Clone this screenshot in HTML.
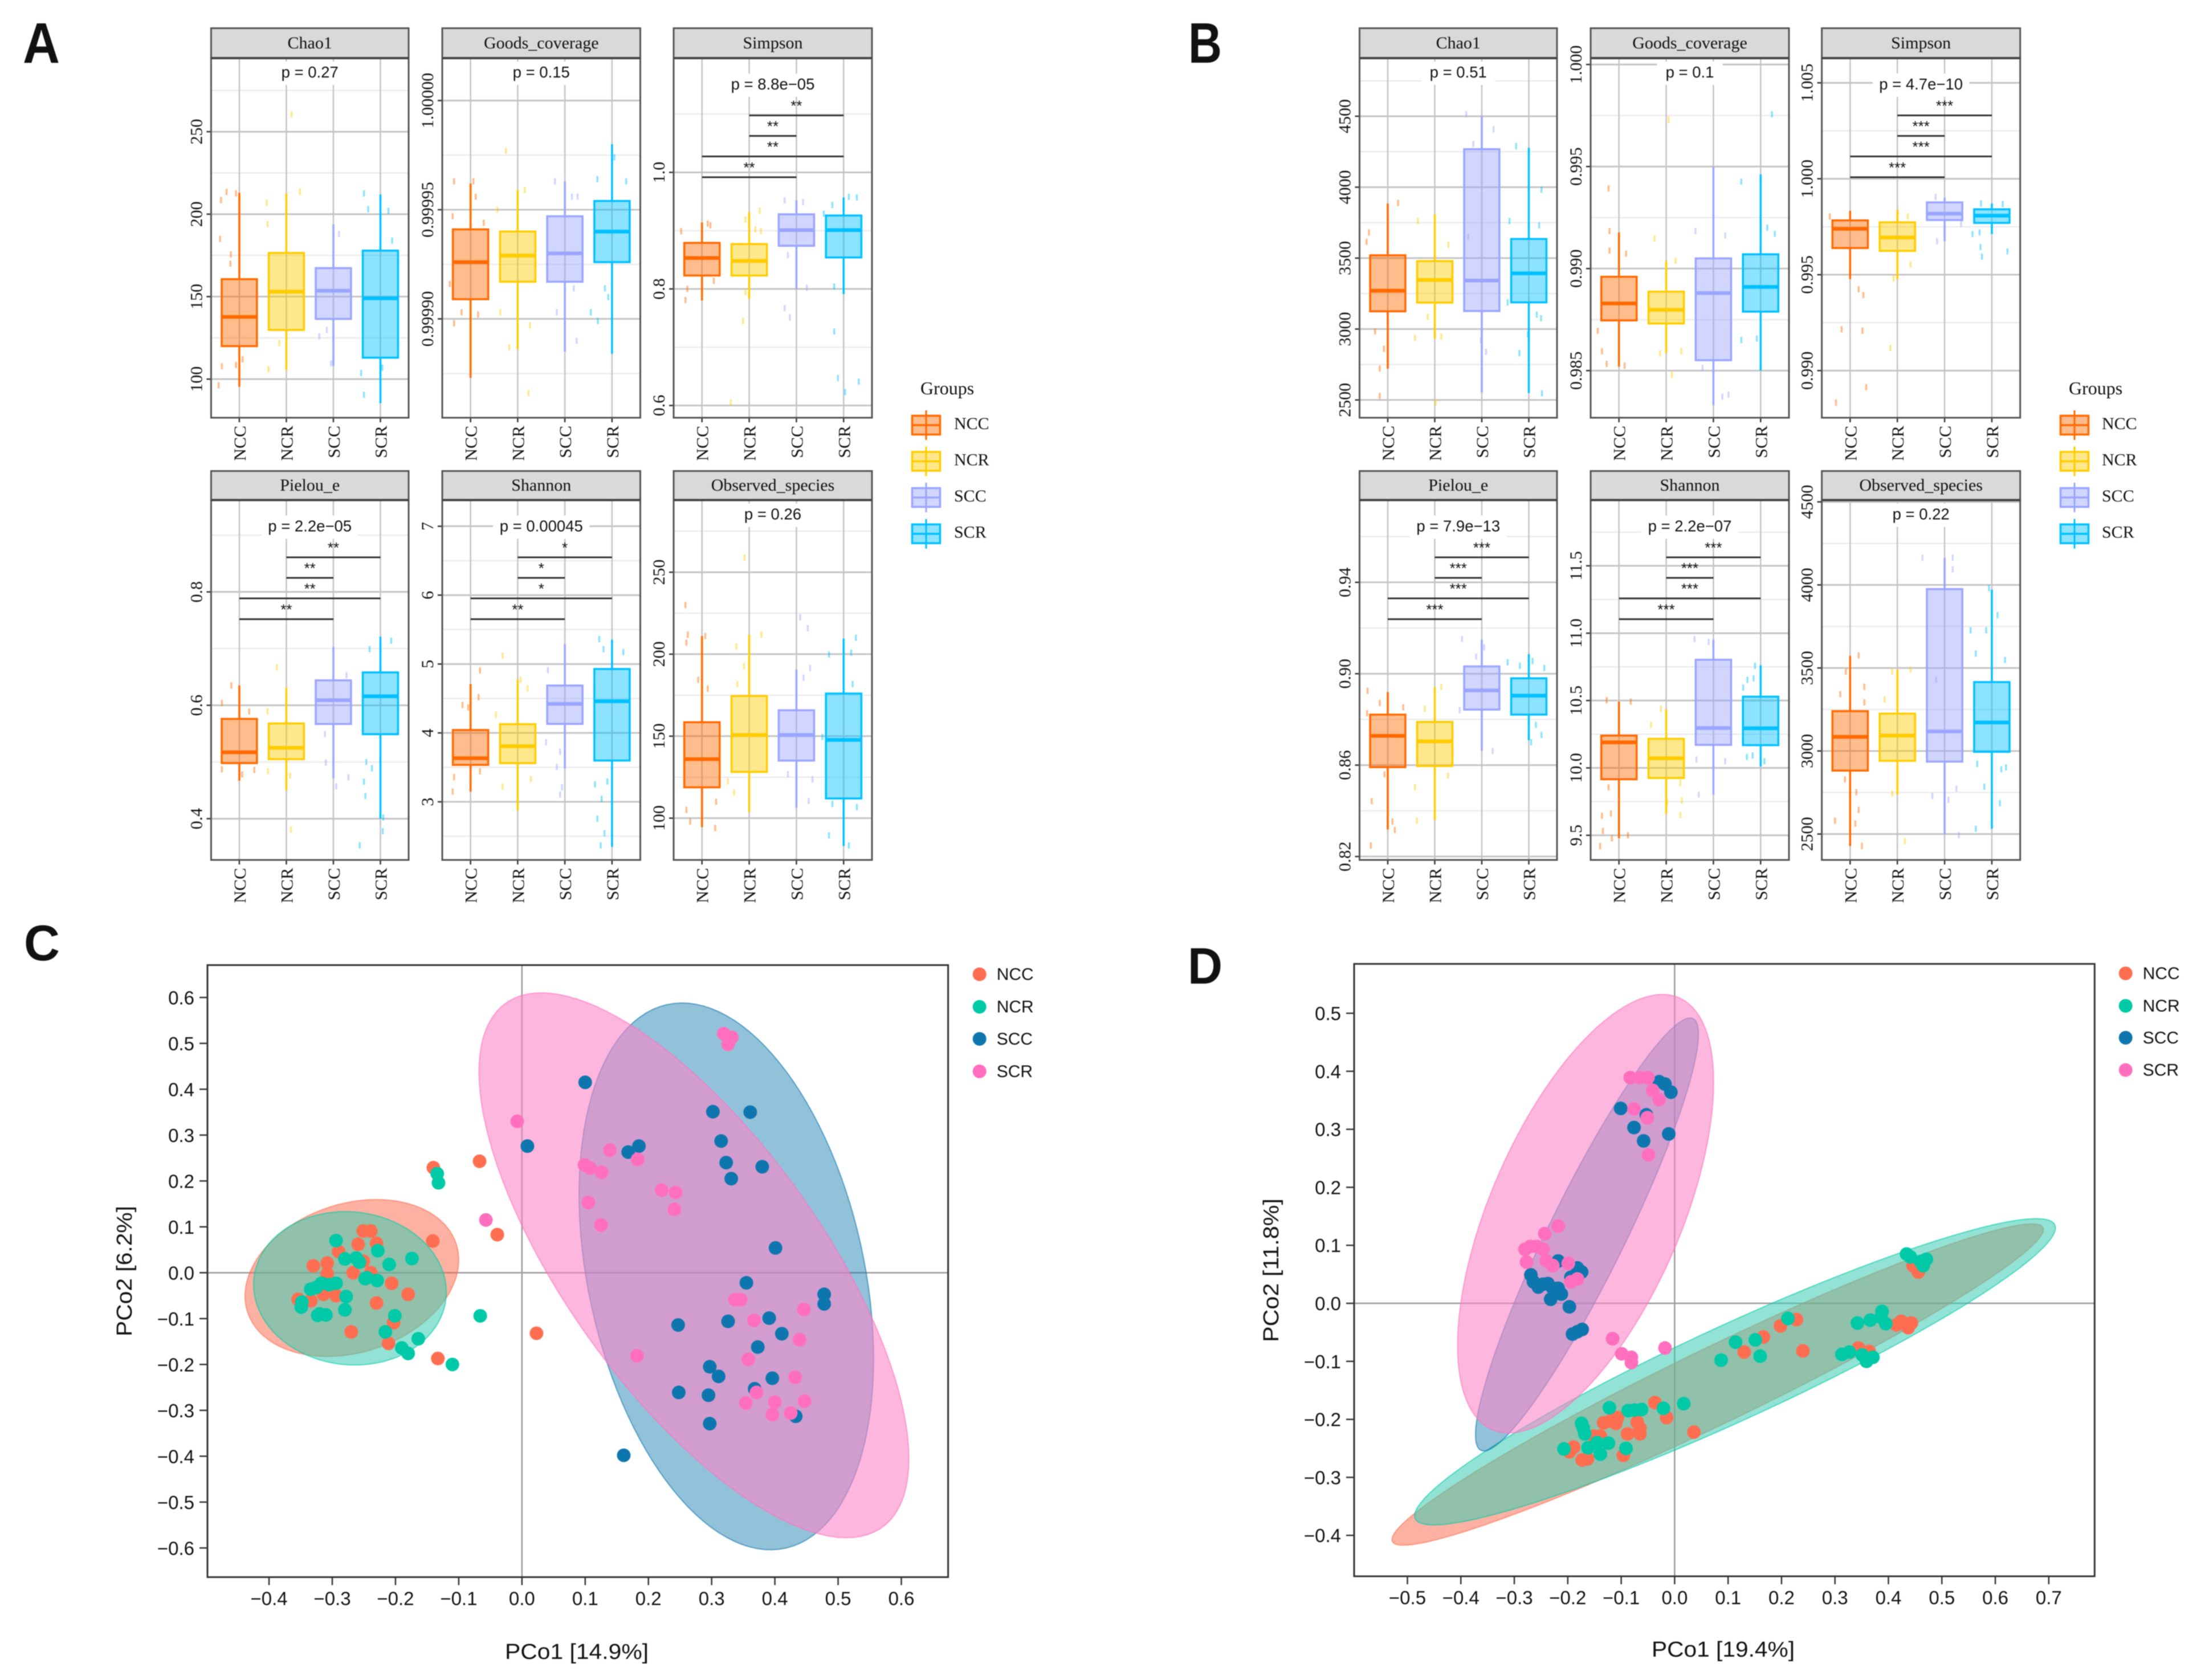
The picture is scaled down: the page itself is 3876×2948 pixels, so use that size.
<!DOCTYPE html>
<html lang="en">
<head>
<meta charset="utf-8">
<title>Alpha diversity boxplots and PCoA plots</title>
<style>
html,body{margin:0;padding:0;background:#fff;}
svg{display:block;filter:blur(0.8px);}
text{fill:#111;}
.serif{font-family:"Liberation Serif",serif;}
.sans{font-family:"Liberation Sans",sans-serif;}
</style>
</head>
<body>
<svg id="fig" xmlns="http://www.w3.org/2000/svg" width="3876" height="2948" viewBox="0 0 3876 2948">
<rect x="0" y="0" width="3876" height="2948" fill="#fff"/>
<g id="layer"></g>
<text class="sans" x="40" y="110" font-size="100" font-weight="bold" textLength="65" lengthAdjust="spacingAndGlyphs" fill="#000">A</text>
<text class="sans" x="2085" y="110" font-size="100" font-weight="bold" textLength="59" lengthAdjust="spacingAndGlyphs" fill="#000">B</text>
<text class="sans" x="42" y="1685" font-size="88" font-weight="bold" textLength="63" lengthAdjust="spacingAndGlyphs" fill="#000">C</text>
<text class="sans" x="2084" y="1726" font-size="90" font-weight="bold" textLength="61" lengthAdjust="spacingAndGlyphs" fill="#000">D</text>
<text class="serif" x="1615" y="692" font-size="32">Groups</text>
<text class="serif" x="3630" y="692" font-size="32">Groups</text>
<text class="sans" x="886" y="2911" font-size="38" textLength="252" lengthAdjust="spacingAndGlyphs" fill="#222">PCo1 [14.9%]</text>
<text class="sans" transform="translate(231,2345) rotate(-90)" font-size="38" textLength="229" lengthAdjust="spacingAndGlyphs" fill="#222">PCo2 [6.2%]</text>
<text class="sans" x="2898" y="2907" font-size="38" textLength="251" lengthAdjust="spacingAndGlyphs" fill="#222">PCo1 [19.4%]</text>
<text class="sans" transform="translate(2243,2355) rotate(-90)" font-size="38" textLength="252" lengthAdjust="spacingAndGlyphs" fill="#222">PCo2 [11.8%]</text>
</svg>
<script>
// ---------- Boxplot data: each stats row is [whisker low, q1, median, q3, whisker high] ----------
const groupNames = ['NCC', 'NCR', 'SCC', 'SCR'];

const aChao1Stats = [[95.4,120,137.7,160.6,213],[105.5,129.8,153,176.5,212.6],[108,136.5,153.6,167.3,193.8],[85.4,113,149,177.9,212]];
const aGoodsStats = [[0.999873,0.999909,0.999926,0.999941,0.999962],[0.999886,0.999917,0.999929,0.99994,0.999959],[0.999885,0.999917,0.99993,0.999947,0.999963],[0.999884,0.999926,0.99994,0.999954,0.99998]];
const aSimpsonStats = [[0.78,0.823,0.853,0.879,0.914],[0.783,0.823,0.848,0.877,0.932],[0.8,0.874,0.901,0.928,0.952],[0.791,0.854,0.901,0.926,0.957]];
const aPielouStats = [[0.467,0.498,0.517,0.576,0.635],[0.45,0.505,0.525,0.568,0.631],[0.471,0.567,0.609,0.644,0.703],[0.4,0.549,0.616,0.658,0.721]];
const aShannonStats = [[3.148,3.536,3.633,4.042,4.709],[2.873,3.561,3.806,4.127,4.772],[3.485,4.131,4.422,4.688,5.287],[2.346,3.599,4.46,4.928,5.354]];
const aObservedStats = [[94.5,118.8,136,158.5,211],[103.7,128.2,150.7,174.5,211.9],[106.4,135.1,150.7,165.8,190.6],[83,112,147.7,176,209.6]];
const bChao1Stats = [[2721,3125,3270,3520,3885],[2932,3186,3346,3479,3807],[2553,3127,3342,4268,4500],[2549,3188,3393,3635,4278]];
const bGoodsStats = [[0.98519,0.98746,0.98829,0.9896,0.99177],[0.98585,0.98731,0.98798,0.98887,0.99037],[0.98333,0.98551,0.9888,0.9905,0.995],[0.985,0.98789,0.9891,0.9907,0.99462]];
const bSimpsonStats = [[0.99477,0.99639,0.99739,0.99783,0.99833],[0.99477,0.99624,0.99694,0.99773,0.99833],[0.99674,0.99785,0.99818,0.99877,0.99901],[0.99712,0.9977,0.99808,0.99841,0.99871]];
const bPielouStats = [[0.8318,0.8591,0.8728,0.8821,0.892],[0.836,0.8596,0.8704,0.8789,0.8942],[0.8662,0.8843,0.8927,0.9032,0.9149],[0.8709,0.8821,0.8904,0.898,0.9086]];
const bShannonStats = [[9.478,9.916,10.19,10.24,10.492],[9.657,9.925,10.072,10.216,10.434],[9.802,10.171,10.296,10.803,10.952],[10.011,10.169,10.294,10.529,10.762]];
const bObservedStats = [[2427,2882,3085,3240,3573],[2738,2941,3093,3225,3491],[2497,2936,3118,3975,4164],[2532,2995,3172,3415,3972]];

// Jittered samples per group: [category offset, value]
const aChao1Jitter = [[[-.27,213.5],[-.39,208.6],[-.07,212.6],[-.41,185],[-.18,175.6],[-.19,170],[-.37,107.8],[-.07,108.6],[.07,112],[-.44,96.3]],[[-.42,207],[-.4,194],[.11,260.5],[.29,213.5],[-.15,121.8],[-.38,106]],[[.12,188],[-.3,126],[-.05,109.5],[-.14,129.8]],[[-.35,212.6],[.17,202],[-.26,203],[.25,184],[-.41,103.7],[.04,107],[-.35,90.5]]];
const aGoodsJitter = [[[-.35,.999963],[.06,.999963],[.11,.999956],[-.38,.999947],[.28,.999944],[-.44,.999916],[-.19,.999903],[.16,.999902],[-.35,.999898]],[[-.25,.999977],[.15,.999959],[-.43,.99995],[-.37,.999903],[.26,.999897],[-.18,.999887],[.23,.999866]],[[-.21,.999963],[.15,.999956],[.27,.999956],[-.17,.999903],[.19,.999914],[.25,.99989]],[[-.31,.999964],[.3,.999963],[.05,.999974],[-.45,.999903],[-.3,.999899],[-.08,.99991],[-.15,.999914]]];
const aSimpsonJitter = [[[-.44,.899],[.12,.912],[.18,.909],[-.31,.8],[-.35,.781],[.25,.814]],[[.22,.934],[-.08,.919],[.13,.902],[.25,.899],[-.08,.795],[-.13,.745],[-.39,.605]],[[-.25,.952],[.14,.949],[-.25,.767],[-.14,.751],[.22,.802],[-.18,.858]],[[-.24,.944],[.11,.958],[.28,.957],[-.42,.929],[-.2,.727],[-.12,.647],[.32,.641],[.03,.623],[-.2,.804]]];
const aPielouJitter = [[[-.37,.604],[-.17,.635],[.21,.589],[-.37,.487],[.06,.478],[.32,.486]],[[-.2,.667],[-.4,.589],[-.39,.484],[.1,.381],[.08,.476]],[[-.16,.499],[.06,.457],[.32,.473],[.28,.653],[-.18,.549]],[[.23,.714],[-.23,.699],[-.3,.5],[-.18,.489],[-.35,.465],[-.32,.44],[.06,.402],[.05,.378],[-.44,.353]]];
const aShannonJitter = [[[-.17,4.405],[-.05,4.371],[.2,4.907],[.17,4.519],[-.38,3.148],[-.35,3.359],[.2,3.443]],[[-.32,5.122],[.21,4.646],[.06,4.772],[-.32,3.219],[.28,3.329],[-.46,4.266]],[[-.36,4.911],[-.4,3.865],[-.1,3.726],[-.17,3.506],[-.06,3.211],[-.1,3.105]],[[-.27,5.363],[-.18,5.215],[.24,5.173],[-.36,3.253],[-.1,3.295],[-.22,3.042],[-.31,2.755],[-.16,2.544],[-.24,2.367]]];
const aObservedJitter = [[[-.35,230],[-.3,211.9],[-.33,207],[.07,211],[-.08,184.4],[.12,179],[-.33,105],[.3,110],[.28,94],[-.25,97.9]],[[-.1,258.9],[.26,211.9],[-.27,204.8],[-.11,192.7],[-.25,181.7],[-.45,122.3],[-.32,115.6]],[[.08,222.5],[.24,215.8],[.29,191.5],[.15,185.6],[-.18,126.8],[.34,123.6],[.26,110.5]],[[.26,210],[.16,200.9],[-.31,199.8],[.19,181.7],[-.24,108.7],[.28,106.7],[-.31,89.5],[.11,83.3],[-.45,149.5]]];
const bChao1Jitter = [[[.22,3889],[-.4,3680],[-.45,3615],[-.27,2984],[-.08,2861],[-.17,2721],[-.17,2529]],[[.29,3594],[-.36,3762],[-.15,3086],[-.42,2938],[.14,2947],[.02,2482]],[[-.33,4514],[.25,4408],[-.29,3650],[.09,2840],[-.02,2922],[-.18,4305]],[[-.27,4289],[.27,3983],[-.41,3762],[.22,3731],[.17,3102],[.26,3076],[-.02,2963],[-.2,2830],[.28,2547],[-.45,3188]]];
const bGoodsJitter = [[[-.22,.99393],[-.2,.99184],[-.2,.99088],[.15,.99073],[-.45,.98695],[-.36,.98595],[-.26,.98533],[.12,.98524]],[[-.25,.99148],[.2,.99038],[.05,.9973],[-.13,.98585],[.32,.98595],[.12,.98479]],[[-.38,.99184],[.25,.99162],[-.23,.98514],[.19,.98372],[.32,.98383],[0,.98343]],[[-.41,.99426],[.24,.99756],[.14,.9920],[.3,.9917],[-.41,.9865],[-.08,.98657]]];
const bSimpsonJitter = [[[-.43,.99803],[.18,.99424],[.28,.99394],[-.18,.99215],[.26,.99208],[.34,.98914],[-.3,.98833]],[[.22,.99803],[.01,.99826],[.28,.99553],[-.08,.9948],[-.15,.99118]],[[-.19,.99905],[-.16,.99674],[.35,.99765]],[[-.23,.99871],[.23,.99868],[-.41,.99712],[-.26,.9972],[-.24,.99644],[-.21,.99594],[.33,.99621]]];
const bPielouJitter = [[[-.43,.8925],[-.17,.8872],[.33,.8853],[-.44,.8827],[-.07,.856],[-.34,.8442],[.1,.8353],[.15,.8316],[-.36,.8248]],[[-.21,.8846],[.14,.8942],[.28,.8554],[-.42,.8503],[-.38,.8356]],[[-.42,.9152],[.05,.9116],[-.12,.9075],[-.47,.884],[.23,.8662]],[[-.45,.905],[-.19,.9035],[.08,.9056],[.33,.9025],[.15,.8776],[.27,.8732],[.05,.87]]];
const bShannonJitter = [[[-.26,10.503],[.25,10.492],[-.22,9.856],[-.17,9.662],[-.36,9.645],[-.34,9.532],[-.15,9.478],[.19,9.5],[-.4,9.42]],[[-.32,10.32],[-.11,10.439],[.3,9.888],[.33,9.759],[.02,9.748],[.3,9.651]],[[-.4,10.956],[-.1,10.935],[-.36,10.061],[-.31,9.802],[.25,10.05]],[[-.12,10.758],[-.15,10.665],[-.28,10.654],[-.37,10.596],[-.17,10.093],[-.29,10.082],[.08,10.05]]];
const bObservedJitter = [[[.18,3576],[-.09,3478],[.3,3386],[-.21,3342],[.3,3293],[-.11,2829],[.13,2752],[.18,2645],[.11,2563],[-.32,2580],[.25,2428]],[[.28,3490],[-.11,3478],[-.27,3310],[-.11,2743],[.16,2458]],[[.17,4164],[.17,4094],[-.47,4164],[-.18,3429],[.08,2706],[.25,2773],[-.26,2729],[.3,2493]],[[-.45,3727],[-.12,3727],[-.06,3981],[.12,3818],[-.34,3587],[.28,3548],[-.31,2922],[.2,2890],[.3,2901],[.17,2686],[-.16,2785],[-.34,2532]]];

// Axis domains [bottom, top], tick labels and minor gridline values
const aChao1Domain = [76.6, 294.6];
const aChao1Ticks = ['100','150','200','250'];
const aChao1Minor = [125,175,225,275];
const aGoodsDomain = [0.99985472, 1.00001944];
const aGoodsTicks = ['0.99990','0.99995','1.00000'];
const aGoodsMinor = [0.999875,0.999925,0.999975];
const aSimpsonDomain = [0.579, 1.196];
const aSimpsonTicks = ['0.6','0.8','1.0'];
const aSimpsonMinor = [0.7,0.9,1.1];
const aPielouDomain = [0.3272, 0.962];
const aPielouTicks = ['0.4','0.6','0.8'];
const aPielouMinor = [0.5,0.7,0.9];
const aShannonDomain = [2.156, 7.38];
const aShannonTicks = ['3','4','5','6','7'];
const aShannonMinor = [2.5,3.5,4.5,5.5,6.5];
const aObservedDomain = [74.5, 294];
const aObservedTicks = ['100','150','200','250'];
const aObservedMinor = [125,175,225,275];
const bChao1Domain = [2375, 4909.6];
const bChao1Ticks = ['2500','3000','3500','4000','4500'];
const bChao1Minor = [2750,3250,3750,4250,4750];
const bGoodsDomain = [0.982692, 1.000313];
const bGoodsTicks = ['0.985','0.990','0.995','1.000'];
const bGoodsMinor = [0.9875,0.9925,0.9975];
const bSimpsonDomain = [0.987545, 1.006288];
const bSimpsonTicks = ['0.990','0.995','1.000','1.005'];
const bSimpsonMinor = [0.9925,0.9975,1.0025];
const bPielouDomain = [0.8185, 0.976];
const bPielouTicks = ['0.82','0.86','0.90','0.94'];
const bPielouMinor = [0.84,0.88,0.92,0.96];
const bShannonDomain = [9.317, 11.988];
const bShannonTicks = ['9.5','10.0','10.5','11.0','11.5'];
const bShannonMinor = [9.75,10.25,10.75,11.25,11.75];
const bObservedDomain = [2344, 4511];
const bObservedTicks = ['2500','3000','3500','4000','4500'];
const bObservedMinor = [2750,3250,3750,4250];

const comparisonPairs = [[1,3],[1,2],[0,3],[0,2]];
const starsTwo = ['**','**','**','**'];
const starsShannonA = ['*','*','*','**'];
const starsThree = ['***','***','***','***'];

// ---------- PCoA data: [PCo1, PCo2] ----------
const cNCC = [[-.14,.229],[-.067,.243],[-.141,.069],[-.039,.083],[.023,-.132],[-.133,-.187],[-.251,.091],[-.239,.091],[-.259,.062],[-.23,.064],[-.29,.046],[-.33,.015],[-.308,.021],[-.308,-.002],[-.251,.025],[-.267,0],[-.239,0],[-.206,-.023],[-.18,-.047],[-.354,-.058],[-.334,-.061],[-.314,-.047],[-.294,-.05],[-.23,-.066],[-.27,-.129],[-.203,-.109],[-.211,-.154]];
const cNCR = [[-.134,.216],[-.132,.196],[-.294,.07],[-.228,.048],[-.174,.031],[-.28,.03],[-.262,.032],[-.257,.023],[-.21,.018],[-.245,-.011],[-.229,-.017],[-.248,-.013],[-.334,-.036],[-.325,-.032],[-.317,-.023],[-.305,-.026],[-.294,-.023],[-.278,-.052],[-.348,-.064],[-.349,-.075],[-.32,-.09],[-.31,-.092],[-.323,-.093],[-.28,-.081],[-.201,-.094],[-.216,-.129],[-.164,-.144],[-.19,-.164],[-.18,-.176],[-.11,-.2],[-.066,-.094]];
const cSCC = [[.0086,.276],[.1,.415],[.302,.351],[.361,.35],[.315,.287],[.323,.24],[.38,.231],[.331,.205],[.168,.263],[.185,.276],[.401,.054],[.355,-.022],[.478,-.047],[.478,-.068],[.326,-.106],[.391,-.099],[.247,-.114],[.411,-.133],[.373,-.162],[.297,-.205],[.311,-.226],[.396,-.23],[.368,-.253],[.248,-.261],[.295,-.267],[.433,-.313],[.297,-.329],[.161,-.398]];
const cSCR = [[-.0075,.33],[-.057,.115],[.319,.521],[.332,.513],[.326,.498],[.139,.267],[.099,.235],[.108,.228],[.126,.219],[.183,.247],[.221,.18],[.243,.175],[.241,.138],[.105,.153],[.125,.104],[.337,-.059],[.346,-.059],[.446,-.08],[.367,-.104],[.439,-.146],[.182,-.181],[.358,-.189],[.432,-.228],[.371,-.261],[.354,-.284],[.4,-.282],[.447,-.28],[.396,-.309],[.425,-.306]];
const dNCC = [[-.189,-.248],[-.197,-.256],[-.163,-.268],[-.173,-.27],[-.151,-.229],[-.139,-.229],[-.133,-.206],[-.121,-.203],[-.107,-.197],[-.11,-.207],[-.088,-.225],[-.07,-.205],[-.065,-.225],[-.065,-.215],[-.096,-.262],[-.037,-.171],[-.015,-.197],[.036,-.222],[.13,-.084],[.166,-.058],[.198,-.039],[.228,-.028],[.24,-.082],[.344,-.077],[.364,-.083],[.446,.065],[.456,.054],[.415,-.037],[.424,-.031],[.434,-.037],[.443,-.034],[.437,-.042]];
const dNCR = [[-.207,-.251],[-.174,-.207],[-.171,-.215],[-.168,-.225],[-.162,-.249],[-.145,-.24],[-.124,-.241],[-.139,-.26],[-.122,-.18],[-.091,-.25],[-.087,-.185],[-.075,-.184],[-.062,-.183],[-.021,-.181],[.017,-.173],[.087,-.098],[.114,-.067],[.151,-.063],[.16,-.091],[.212,-.026],[.313,-.088],[.327,-.084],[.342,-.034],[.366,-.029],[.388,-.014],[.386,-.024],[.395,-.035],[.351,-.089],[.359,-.1],[.371,-.093],[.434,.085],[.441,.08],[.46,.072],[.471,.076],[.465,.065]];
const dSCC = [[-.101,.336],[-.076,.303],[-.058,.28],[-.053,.325],[-.029,.382],[-.018,.378],[-.007,.364],[-.011,.292],[-.218,.073],[-.269,.049],[-.264,.037],[-.255,.028],[-.246,.033],[-.237,.034],[-.228,.026],[-.218,.026],[-.212,.016],[-.232,.007],[-.197,-.006],[-.191,-.053],[-.182,-.049],[-.173,-.045],[-.182,.061],[-.174,.054],[-.194,.045]];
const dSCR = [[-.083,.389],[-.065,.389],[-.05,.389],[-.041,.367],[-.029,.351],[-.076,.335],[-.051,.32],[-.049,.256],[-.218,.133],[-.243,.12],[-.28,.093],[-.27,.098],[-.258,.098],[-.246,.093],[-.277,.071],[-.24,.073],[-.228,.065],[-.199,.069],[-.194,.037],[-.182,.042],[-.116,-.061],[-.099,-.087],[-.081,-.093],[-.081,-.102],[-.018,-.077]];

// Confidence ellipses: [centre PCo1, centre PCo2, half-extent PCo1, half-extent PCo2, correlation]
const cEllipseNCC = [-.269,-.0115,.169,.171,.23];
const cEllipseNCR = [-.272,-.034,.1524,.1672,-.05];
const cEllipseSCC = [.3232,-.008,.2329,.596,-.3];
const cEllipseSCR = [.272,.0162,.34,.594,-.71];
const dEllipseNCC = [.0805,-.14,.6095,.277,.965];
const dEllipseNCR = [.113,-.118,.5996,.264,.94];
const dEllipseSCC = [-.164,.1187,.2086,.3732,.925];
const dEllipseSCR = [-.1666,.1545,.2396,.378,.6];

const cXTicks = [-.4,-.3,-.2,-.1,0,.1,.2,.3,.4,.5,.6];
const cYTicks = [-.6,-.5,-.4,-.3,-.2,-.1,0,.1,.2,.3,.4,.5,.6];
const dXTicks = [-.5,-.4,-.3,-.2,-.1,0,.1,.2,.3,.4,.5,.6,.7];
const dYTicks = [-.4,-.3,-.2,-.1,0,.1,.2,.3,.4,.5];

// ---------- Rendering ----------
const NS = 'http://www.w3.org/2000/svg';
const layer = document.getElementById('layer');
const boxColors = ['#ff6a00','#ffcc00','#9aa5ff','#00c0ff'];
const pcoaColors = ['#ff6e50','#00c9a7','#0e76ae','#ff6fbe'];
const ellipseFills = ['#fa6345','#38ccb3','#0e76ae','#fc85c6'];
const ellipseAlpha = [0.5,0.55,0.45,0.6];

function make(tag, attrs, parent) {
  const el = document.createElementNS(NS, tag);
  for (const k in attrs) el.setAttribute(k, attrs[k]);
  parent.appendChild(el);
  return el;
}
function linear(d0, d1, r0, r1) {
  return v => r0 + (v - d0) * (r1 - r0) / (d1 - d0);
}
function fmtTick(v) {
  const s = Math.abs(v).toFixed(1);
  return (v < -1e-9 ? '\u2212' : '') + s;
}

function drawBoxPanel(cfg, left, width, top, bottom, stripTop) {
  const g = make('g', {}, layer);
  
  
  const y = linear(cfg.domain[0], cfg.domain[1], bottom, top);
  const step = width / 4.2;
  const x = i => left + step * (0.6 + i);
  const right = left + width;

  cfg.minor.forEach(v => {
    const m = make('line', {x1:left, x2:right, y1:y(v), y2:y(v), stroke:'#ececec', 'stroke-width':2.5}, g);
    
    
  });
  cfg.ticks.forEach(label => {
    const v = Number(label);
    const m = make('line', {x1:left, x2:right, y1:y(v), y2:y(v), stroke:'#c4c4c4', 'stroke-width':3}, g);
    
    
    const t = make('line', {x1:left-8, x2:left, y1:y(v), y2:y(v), stroke:'#333', 'stroke-width':2.5}, g);
    
    
    const txt = make('text', {class:'serif', transform:'translate(' + (left-16) + ',' + y(v) + ') rotate(-90)', 'text-anchor':'middle', 'font-size':30}, g);
    txt.textContent = label;
    
    
  });
  groupNames.forEach((name, i) => {
    const m = make('line', {x1:x(i), x2:x(i), y1:top, y2:bottom, stroke:'#c4c4c4', 'stroke-width':2.5}, g);
    
    
    const t = make('line', {x1:x(i), x2:x(i), y1:bottom, y2:bottom+8, stroke:'#333', 'stroke-width':2.5}, g);
    
    
    const txt = make('text', {class:'serif', transform:'translate(' + (x(i)+11) + ',' + (bottom+14) + ') rotate(-90)', 'text-anchor':'end', 'font-size':30}, g);
    txt.textContent = name;
    
    
  });

  const pY = top + (cfg.stars ? 47 : 26);
  const pText = make('text', {class:'sans', x:left+width/2, y:pY+8, 'text-anchor':'middle', 'font-size':27.5}, g);
  pText.textContent = cfg.p;
  
  
  const pW = cfg.p.length * 13.6 + 20;
  const pBg = make('rect', {x:left+width/2-pW/2, y:pY-20, width:pW, height:41, fill:'#fff'}, g);
  
  
  g.appendChild(pText);

  groupNames.forEach((name, i) => {
    const col = boxColors[i];
    cfg.jitter[i].forEach(p => {
      const d = make('line', {x1:x(i)+p[0]*step, x2:x(i)+p[0]*step, y1:y(p[1])-5.5, y2:y(p[1])+5.5, stroke:col, 'stroke-width':3.5, opacity:0.45}, g);
      
      
    });
    const s = cfg.stats[i];
    const bw = step * 0.75;
    const wh = make('line', {x1:x(i), x2:x(i), y1:y(s[0]), y2:y(s[1]), stroke:col, 'stroke-width':3.5}, g);
    
    
    const wt = make('line', {x1:x(i), x2:x(i), y1:y(s[3]), y2:y(s[4]), stroke:col, 'stroke-width':3.5}, g);
    
    
    const b = make('rect', {x:x(i)-bw/2, y:y(s[3]), width:bw, height:y(s[1])-y(s[3]), fill:col, 'fill-opacity':0.45, stroke:col, 'stroke-width':3.5}, g);
    
    
    const md = make('line', {x1:x(i)-bw/2, x2:x(i)+bw/2, y1:y(s[2]), y2:y(s[2]), stroke:col, 'stroke-width':6.5}, g);
    
    
  });

  if (cfg.stars) {
    const lineOffsets = [100.5,136.5,172.5,209];
    comparisonPairs.forEach((pair, k) => {
      const ly = top + lineOffsets[k];
      const l = make('line', {x1:x(pair[0]), x2:x(pair[1]), y1:ly, y2:ly, stroke:'#333', 'stroke-width':3}, g);
      
      
      const st = make('text', {class:'sans', x:(x(pair[0])+x(pair[1]))/2, y:ly-8, 'text-anchor':'middle', 'font-size':26}, g);
      st.textContent = cfg.stars[k];
      
      
    });
  }

  const frame = make('rect', {x:left, y:top, width:width, height:bottom-top, fill:'none', stroke:'#555', 'stroke-width':3}, g);
  
  
  const strip = make('rect', {x:left, y:stripTop, width:width, height:top-stripTop, fill:'#d9d9d9', stroke:'#555', 'stroke-width':3}, g);
  
  
  const stripLine = make('line', {x1:left, x2:right, y1:top, y2:top, stroke:'#444', 'stroke-width':4}, g);
  
  
  const title = make('text', {class:'serif', x:left+width/2, y:(stripTop+top)/2+9, 'text-anchor':'middle', 'font-size':30}, g);
  title.textContent = cfg.title;
  
  
}

function drawBoxLegend(centerX, labelX) {
  const centers = [746, 809.5, 873, 936.7];
  groupNames.forEach((name, i) => {
    const g = make('g', {}, layer);
    
    
    const cy = centers[i], col = boxColors[i];
    const w = make('line', {x1:centerX, x2:centerX, y1:cy-26, y2:cy+26, stroke:col, 'stroke-width':3}, g);
    
    
    const b = make('rect', {x:centerX-24.5, y:cy-16.5, width:49, height:33, fill:col, 'fill-opacity':0.45, stroke:col, 'stroke-width':3.5}, g);
    
    
    const m = make('line', {x1:centerX-24.5, x2:centerX+24.5, y1:cy, y2:cy, stroke:col, 'stroke-width':3.5}, g);
    
    
    const t = make('text', {class:'serif', x:labelX, y:cy+7, 'font-size':30}, g);
    t.textContent = name;
    
    
  });
}

function drawPcoa(cfg) {
  const g = make('g', {}, layer);
  
  
  const x = linear(cfg.xDomain[0], cfg.xDomain[1], cfg.left, cfg.right);
  const y = linear(cfg.yDomain[0], cfg.yDomain[1], cfg.bottom, cfg.top);

  const h0 = make('line', {x1:cfg.left, x2:cfg.right, y1:y(0), y2:y(0), stroke:'#999', 'stroke-width':2.5}, g);
  
  
  const v0 = make('line', {x1:x(0), x2:x(0), y1:cfg.top, y2:cfg.bottom, stroke:'#999', 'stroke-width':2.5}, g);
  
  

  cfg.ellipses.forEach((e, i) => {
    const pts = [];
    const delta = Math.acos(e[4]);
    for (let k = 0; k < 120; k++) {
      const t = k / 120 * 2 * Math.PI;
      pts.push(x(e[0] + e[2] * Math.cos(t)).toFixed(1) + ',' + y(e[1] + e[3] * Math.cos(t - delta)).toFixed(1));
    }
    const p = make('polygon', {points:pts.join(' '), fill:ellipseFills[i], 'fill-opacity':ellipseAlpha[i], stroke:pcoaColors[i], 'stroke-opacity':0.6, 'stroke-width':2}, g);
    
    
  });
  cfg.series.forEach((pts, i) => {
    pts.forEach(pt => {
      const c = make('circle', {cx:x(pt[0]), cy:y(pt[1]), r:12, fill:pcoaColors[i]}, g);
      
      
    });
  });

  const frame = make('rect', {x:cfg.left, y:cfg.top, width:cfg.right-cfg.left, height:cfg.bottom-cfg.top, fill:'none', stroke:'#333', 'stroke-width':3}, g);
  
  

  cfg.xTicks.forEach(v => {
    const t = make('line', {x1:x(v), x2:x(v), y1:cfg.bottom, y2:cfg.bottom+14, stroke:'#333', 'stroke-width':2.5}, g);
    
    
    const l = make('text', {class:'sans', x:x(v), y:cfg.bottom+49, 'text-anchor':'middle', 'font-size':33, fill:'#222'}, g);
    l.textContent = fmtTick(v);
    
    
  });
  cfg.yTicks.forEach(v => {
    const t = make('line', {x1:cfg.left-14, x2:cfg.left, y1:y(v), y2:y(v), stroke:'#333', 'stroke-width':2.5}, g);
    
    
    const l = make('text', {class:'sans', x:cfg.left-23, y:y(v)+12, 'text-anchor':'end', 'font-size':33, fill:'#222'}, g);
    l.textContent = fmtTick(v);
    
    
  });

  groupNames.forEach((name, i) => {
    const e = make('g', {}, g);
    
    
    const c = make('circle', {cx:cfg.legendX, cy:cfg.legendY[i], r:12, fill:pcoaColors[i]}, e);
    
    
    const t = make('text', {class:'sans', x:cfg.legendX+30, y:cfg.legendY[i]+10, 'font-size':30, fill:'#222'}, e);
    t.textContent = name;
    
    
  });
}

const row1 = {stripTop:49.5, top:102, bottom:733};
const row2 = {stripTop:826.5, top:877.5, bottom:1509};
const aLefts = [370.4, 776, 1182], aWidths = [346.6, 347.5, 348];
const bLefts = [2385.5, 2791, 3196.6], bWidths = [346.5, 348, 348.1];

const boxPanels = [
  {id:'a-chao1', title:'Chao1', p:'p = 0.27', stats:aChao1Stats, jitter:aChao1Jitter, domain:aChao1Domain, ticks:aChao1Ticks, minor:aChao1Minor, col:0, row:row1, set:'a'},
  {id:'a-goods', title:'Goods_coverage', p:'p = 0.15', stats:aGoodsStats, jitter:aGoodsJitter, domain:aGoodsDomain, ticks:aGoodsTicks, minor:aGoodsMinor, col:1, row:row1, set:'a'},
  {id:'a-simpson', title:'Simpson', p:'p = 8.8e\u221205', stats:aSimpsonStats, jitter:aSimpsonJitter, domain:aSimpsonDomain, ticks:aSimpsonTicks, minor:aSimpsonMinor, stars:starsTwo, col:2, row:row1, set:'a'},
  {id:'a-pielou', title:'Pielou_e', p:'p = 2.2e\u221205', stats:aPielouStats, jitter:aPielouJitter, domain:aPielouDomain, ticks:aPielouTicks, minor:aPielouMinor, stars:starsTwo, col:0, row:row2, set:'a'},
  {id:'a-shannon', title:'Shannon', p:'p = 0.00045', stats:aShannonStats, jitter:aShannonJitter, domain:aShannonDomain, ticks:aShannonTicks, minor:aShannonMinor, stars:starsShannonA, col:1, row:row2, set:'a'},
  {id:'a-observed', title:'Observed_species', p:'p = 0.26', stats:aObservedStats, jitter:aObservedJitter, domain:aObservedDomain, ticks:aObservedTicks, minor:aObservedMinor, col:2, row:row2, set:'a'},
  {id:'b-chao1', title:'Chao1', p:'p = 0.51', stats:bChao1Stats, jitter:bChao1Jitter, domain:bChao1Domain, ticks:bChao1Ticks, minor:bChao1Minor, col:0, row:row1, set:'b'},
  {id:'b-goods', title:'Goods_coverage', p:'p = 0.1', stats:bGoodsStats, jitter:bGoodsJitter, domain:bGoodsDomain, ticks:bGoodsTicks, minor:bGoodsMinor, col:1, row:row1, set:'b'},
  {id:'b-simpson', title:'Simpson', p:'p = 4.7e\u221210', stats:bSimpsonStats, jitter:bSimpsonJitter, domain:bSimpsonDomain, ticks:bSimpsonTicks, minor:bSimpsonMinor, stars:starsThree, col:2, row:row1, set:'b'},
  {id:'b-pielou', title:'Pielou_e', p:'p = 7.9e\u221213', stats:bPielouStats, jitter:bPielouJitter, domain:bPielouDomain, ticks:bPielouTicks, minor:bPielouMinor, stars:starsThree, col:0, row:row2, set:'b'},
  {id:'b-shannon', title:'Shannon', p:'p = 2.2e\u221207', stats:bShannonStats, jitter:bShannonJitter, domain:bShannonDomain, ticks:bShannonTicks, minor:bShannonMinor, stars:starsThree, col:1, row:row2, set:'b'},
  {id:'b-observed', title:'Observed_species', p:'p = 0.22', stats:bObservedStats, jitter:bObservedJitter, domain:bObservedDomain, ticks:bObservedTicks, minor:bObservedMinor, col:2, row:row2, set:'b'}
];
boxPanels.forEach(c => {
  const lefts = c.set === 'a' ? aLefts : bLefts;
  const widths = c.set === 'a' ? aWidths : bWidths;
  drawBoxPanel(c, lefts[c.col], widths[c.col], c.row.top, c.row.bottom, c.row.stripTop);
});
drawBoxLegend(1625, 1674);
drawBoxLegend(3640, 3688);

drawPcoa({id:'c', left:364, right:1663.6, top:1693.5, bottom:2767.5,
  xDomain:[-.4974,.674], yDomain:[-.6636,.6706], xTicks:cXTicks, yTicks:cYTicks,
  ellipses:[cEllipseNCC,cEllipseNCR,cEllipseSCC,cEllipseSCR], series:[cNCC,cNCR,cSCC,cSCR],
  legendX:1718.7, legendY:[1709.6,1766.7,1823,1880]});
drawPcoa({id:'d', left:2376, right:3675.3, top:1691.4, bottom:2766,
  xDomain:[-.5997,.7858], yDomain:[-.4705,.5851], xTicks:dXTicks, yTicks:dYTicks,
  ellipses:[dEllipseNCC,dEllipseNCR,dEllipseSCC,dEllipseSCR], series:[dNCC,dNCR,dSCC,dSCR],
  legendX:3729.7, legendY:[1708,1765,1821,1877.6]});
</script>
</body>
</html>
